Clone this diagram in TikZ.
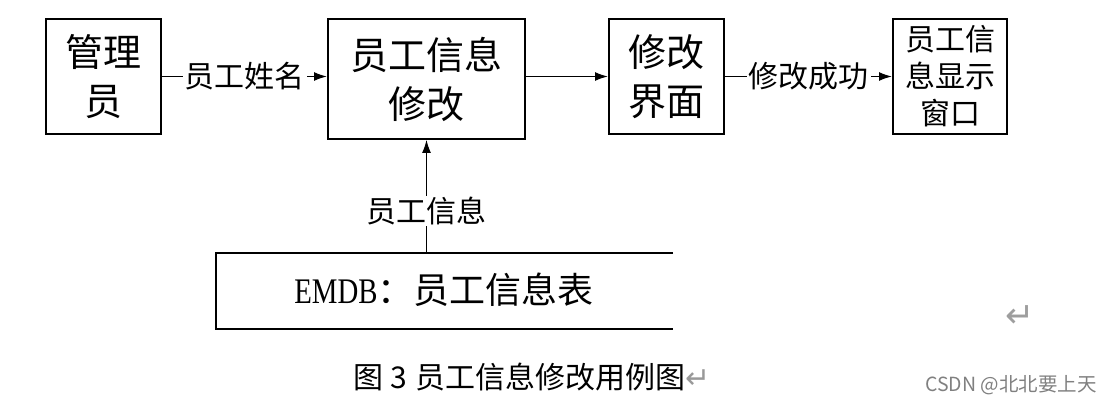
\documentclass[tikz,border=0pt]{standalone}
\usepackage{fontspec}
\setmainfont{Liberation Serif}
\newfontfamily\cjk{Noto Sans CJK SC}
\newfontfamily\emdbfont[FakeStretch=0.8]{Liberation Serif}
\newfontfamily\symfont{DejaVu Sans}
\usetikzlibrary{arrows.meta}
\begin{document}
\begin{tikzpicture}[x=1pt,y=-1pt,
  box/.style={draw,line width=2pt,inner sep=0pt,align=center},
  big/.style={font=\cjk\fontsize{38}{49}\selectfont},
  mid/.style={font=\cjk\fontsize{30}{37}\selectfont},
  flow/.style={line width=1.5pt,-{Latex[length=13pt,width=9pt]}},
  up/.style={line width=1pt,-{Latex[length=13pt,width=9pt]}},
  lbl/.style={fill=white,inner xsep=2pt,inner ysep=1pt,font=\cjk\fontsize{30}{36}\selectfont}]
\useasboundingbox (0,0) rectangle (1112,403);
\node[box,big,minimum width=115pt,minimum height=115pt] (gly) at (103.5,76.5) {管理\\员};
\node[box,big,minimum width=197pt,minimum height=120pt] (xg) at (426.5,79) {员工信息\\修改};
\node[box,big,minimum width=115pt,minimum height=115pt] (jm) at (666.5,76.5) {修改\\界面};
\node[box,mid,minimum width=114pt,minimum height=115pt] (xs) at (950,76.5) {员工信\\息显示\\窗口};
\draw[flow] (gly.east) -- node[lbl] {员工姓名} (gly.east -| xg.west);
\draw[flow] (xg.east |- jm.west) -- (jm.west);
\draw[flow] (jm.east) -- node[lbl] {修改成功} (xs.west);
\coordinate (dbtl) at (216,253);
\coordinate (dbtr) at (673,253);
\coordinate (dbbl) at (216,329);
\coordinate (dbbr) at (673,329);
\draw[line width=1.8pt] (dbtr) -- (dbtl) -- (dbbl) -- (dbbr);
\node[inner sep=0pt,font=\fontsize{36}{40}\selectfont] (db) at (444,290) {{\emdbfont EMDB}{\cjk ：员工信息表}};
\draw[up] (xg.south |- dbtl) -- node[lbl,pos=0.37] {员工信息} (xg.south);
\node[font=\cjk\fontsize{30}{36}\selectfont,inner sep=0pt] (cap) at (532,377) {图\hspace{7pt}3\hspace{9pt}员工信息修改用例图{\symfont\fontsize{30}{32}\selectfont\color{black!40}↵}};
\node[font=\symfont\fontsize{35}{37}\selectfont,text=black!38,inner sep=0pt] (ret) at (1020,317) {↵};
\node[font=\cjk\fontsize{19.5}{22}\selectfont,text=black!50,inner sep=0pt] (wm) at (1011,385) {CSDN @北北要上天};
\end{tikzpicture}
\end{document}
